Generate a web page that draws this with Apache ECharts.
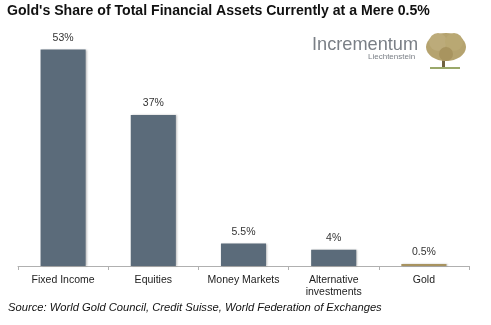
<!DOCTYPE html>
<html>
<head>
<meta charset="utf-8">
<script src="https://cdn.jsdelivr.net/npm/echarts@6/dist/echarts.min.js"></script>
<style>
html,body{margin:0;padding:0;background:#fff;}
#chart{width:491px;height:325px;}
</style>
</head>
<body>
<div id="chart"></div>
<script>
// Asset classes and their share of total financial assets (%)
const categories = ['Fixed Income', 'Equities', 'Money Markets', 'Alternative\ninvestments', 'Gold'];
const shares = [53, 37, 5.5, 4, 0.5];
const shareLabels = ['53%', '37%', '5.5%', '4%', '0.5%'];

const slate = '#5b6b7a';
const gold = '#a8935f';

const chart = echarts.init(document.getElementById('chart'));
chart.setOption({
  animation: false,
  backgroundColor: '#fff',
  title: {
    text: "Gold's Share of Total Financial Assets Currently at a Mere 0.5%",
    left: 7, top: 4, padding: 0,
    textStyle: { fontFamily: 'Liberation Sans, Arial', fontWeight: 'bold', fontSize: 14.1, color: '#111' }
  },
  grid: { left: 18, right: 22, top: 21, bottom: 59 },
  xAxis: {
    type: 'category',
    data: categories,
    axisLine: { lineStyle: { color: '#b0b0b0', width: 1 } },
    axisTick: { show: true, length: 4, lineStyle: { color: '#b0b0b0' } },
    axisLabel: { interval: 0, color: '#222', fontFamily: 'Liberation Sans, Arial', fontSize: 10.5, margin: 8, lineHeight: 12 }
  },
  yAxis: { type: 'value', min: 0, max: 60, show: false, splitLine: { show: false } },
  series: [{
    type: 'bar',
    barWidth: '50%',
    data: shares.map((v, i) => ({
      value: v,
      itemStyle: { color: i === shares.length - 1 ? gold : slate }
    })),
    itemStyle: { shadowColor: 'rgba(0,0,0,0.25)', shadowBlur: 2, shadowOffsetX: 1 },
    label: {
      show: true, position: 'top', distance: 6,
      formatter: p => shareLabels[p.dataIndex],
      color: '#333', fontFamily: 'Liberation Sans, Arial', fontSize: 10.5
    }
  }],
  graphic: [
    // Logo wordmark
    { type: 'text', left: 312, top: 36, style: { text: 'Incrementum', fontFamily: 'Liberation Sans, Arial', fontSize: 18.2, fill: '#7a7f86' } },
    { type: 'text', left: 368, top: 53, style: { text: 'Liechtenstein', fontFamily: 'Liberation Sans, Arial', fontSize: 8, fill: '#7a7f86' } },
    // Tree emblem
    { type: 'rect', shape: { x: 442, y: 54, width: 3, height: 14 }, style: { fill: '#6f6240' } },
    { type: 'rect', shape: { x: 430, y: 67, width: 30, height: 2 }, style: { fill: '#9aa86a' } },
    { type: 'ellipse', shape: { cx: 446, cy: 47, rx: 20, ry: 14 }, style: { fill: '#b5a36f' } },
    { type: 'circle', shape: { cx: 438, cy: 42, r: 9 }, style: { fill: '#bcab7a' } },
    { type: 'circle', shape: { cx: 454, cy: 42, r: 9 }, style: { fill: '#b9a873' } },
    { type: 'circle', shape: { cx: 446, cy: 54, r: 7 }, style: { fill: '#a8945f' } },
    // Source note
    { type: 'text', left: 8, top: 302, style: { text: 'Source: World Gold Council, Credit Suisse, World Federation of Exchanges', fontFamily: 'Liberation Sans, Arial', fontStyle: 'italic', fontSize: 11.2, fill: '#111' } }
  ]
});
</script>
</body>
</html>
